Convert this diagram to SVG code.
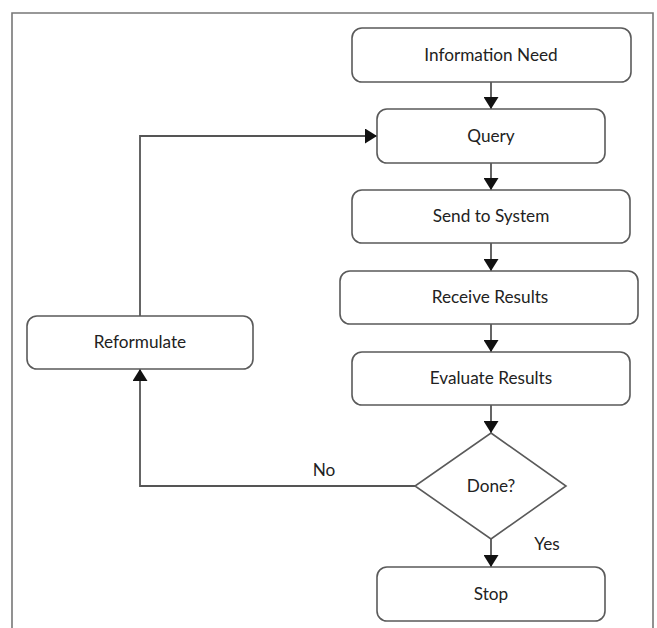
<svg xmlns="http://www.w3.org/2000/svg" width="657" height="628" viewBox="0 0 657 628">
<style>
.box{fill:#fff;stroke:#5a5a5a;stroke-width:1.6}
.lbl{font-family:Lato,"Open Sans","Liberation Sans",sans-serif;font-size:17.2px;fill:#222;text-anchor:middle}
.con{fill:none;stroke:#555;stroke-width:1.8}
</style>
<defs>
<marker id="ah" markerUnits="userSpaceOnUse" markerWidth="15" markerHeight="15" refX="12" refY="7.5" orient="auto">
<path d="M0,0 L12,7.5 L0,15 Z" fill="#111"/>
</marker>
</defs>
<rect width="657" height="628" fill="#fff"/>
<path d="M12,640 V13 H653 V640" fill="none" stroke="#777" stroke-width="1.6"/>
<g id="connectors">
<line class="con" x1="491" y1="82" x2="491" y2="109" marker-end="url(#ah)"/>
<line class="con" x1="491" y1="163" x2="491" y2="190" marker-end="url(#ah)"/>
<line class="con" x1="491" y1="243" x2="491" y2="271" marker-end="url(#ah)"/>
<line class="con" x1="491" y1="324" x2="491" y2="352" marker-end="url(#ah)"/>
<line class="con" x1="491" y1="405" x2="491" y2="433" marker-end="url(#ah)"/>
<line class="con" x1="491" y1="539" x2="491" y2="567" marker-end="url(#ah)"/>
<polyline class="con" points="415,486 140,486 140,369" marker-end="url(#ah)"/>
<polyline class="con" points="140,316 140,136 377,136" marker-end="url(#ah)"/>
<text class="lbl" x="324" y="476">No</text>
<text class="lbl" x="547" y="550">Yes</text>
</g>
<g id="info-need">
<rect class="box" x="352" y="28" width="279" height="54" rx="10"/>
<text class="lbl" x="491" y="61">Information Need</text>
</g>
<g id="query">
<rect class="box" x="377" y="109" width="228" height="54" rx="10"/>
<text class="lbl" x="491" y="142">Query</text>
</g>
<g id="send">
<rect class="box" x="352" y="190" width="278" height="53" rx="10"/>
<text class="lbl" x="491" y="222">Send to System</text>
</g>
<g id="receive">
<rect class="box" x="340" y="271" width="298" height="53" rx="10"/>
<text class="lbl" x="490" y="303">Receive Results</text>
</g>
<g id="evaluate">
<rect class="box" x="352" y="352" width="278" height="53" rx="10"/>
<text class="lbl" x="491" y="384">Evaluate Results</text>
</g>
<g id="done">
<polygon class="box" points="491,433 566,486 491,539 415,486"/>
<text class="lbl" x="491" y="492">Done?</text>
</g>
<g id="stop">
<rect class="box" x="377" y="567" width="228" height="54" rx="10"/>
<text class="lbl" x="491" y="600">Stop</text>
</g>
<g id="reformulate">
<rect class="box" x="27" y="316" width="226" height="53" rx="10"/>
<text class="lbl" x="140" y="348">Reformulate</text>
</g>
</svg>
